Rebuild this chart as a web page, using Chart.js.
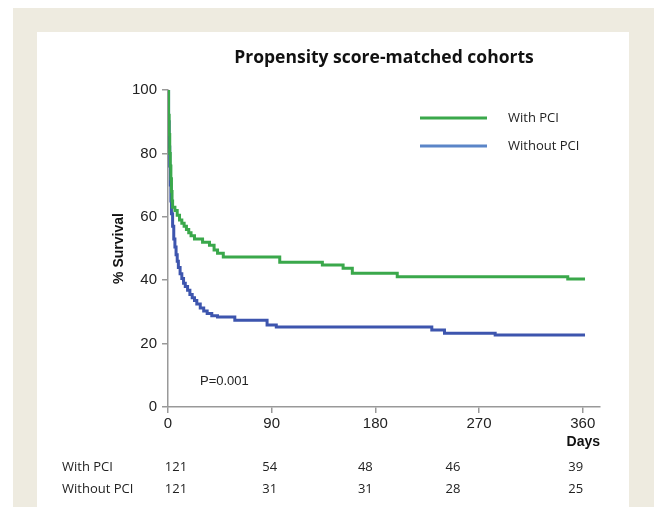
<!DOCTYPE html>
<html><head><meta charset="utf-8">
<script src="https://cdn.jsdelivr.net/npm/chart.js@4"></script>
<style>
html,body{margin:0;padding:0;background:#fff;width:654px;height:507px;overflow:hidden}
#frame{position:absolute;left:13px;top:8px;width:641px;height:499px;background:#eeebe0}
#panel{position:absolute;left:37px;top:32px;width:592px;height:475px;background:#fff}
#wrap{position:absolute;left:0;top:0;width:654px;height:507px}
</style></head><body>
<div id="frame"></div><div id="panel"></div>
<div id="wrap"><canvas id="c" width="654" height="507"></canvas></div>
<script>
// ---- data ----
const chartTitle = 'Propensity score-matched cohorts';
const seriesNames = ['With PCI', 'Without PCI'];
const withPciDays = [0, 0.5, 1, 1.5, 2, 2.5, 3, 3.5, 4, 6, 8, 10, 12, 14, 16, 18, 20, 23, 30, 36, 40, 43, 48, 97, 134, 152, 160, 199, 347, 362];
const withPciSurvival = [100, 92, 86, 80, 76, 72, 68, 65, 63, 62, 60.5, 59, 58, 57, 56, 55, 54, 53, 52, 51, 49.5, 48.5, 47.3, 45.7, 44.8, 43.8, 42.2, 41.1, 40.4, 40.4];
const withoutPciDays = [0, 0.5, 1, 1.5, 2, 2.5, 3, 4, 5, 6, 7, 8, 9, 10.5, 12, 13.5, 15, 17, 19, 21, 23, 25, 28, 31, 34, 38, 43, 58, 86, 94, 229, 240, 284, 362];
const withoutPciSurvival = [100, 90, 82, 76, 70, 65, 61, 57, 53, 50.5, 48, 46, 44, 42, 40.5, 39, 38, 36.8, 35.5, 34.5, 33.6, 32.5, 31.2, 30.3, 29.5, 28.8, 28.4, 27.4, 25.9, 25.2, 24.3, 23.3, 22.7, 22.7];
const xTicks = [0, 90, 180, 270, 360];
const yTicks = [0, 20, 40, 60, 80, 100];
const atRiskWithPci = [121, 54, 48, 46, 39];
const atRiskWithoutPci = [121, 31, 31, 28, 25];
const pValueText = 'P=0.001';
const xAxisLabel = 'Days';
const yAxisLabel = '% Survival';

// ---- styles / layout ----
const GREEN = '#3aa84b', BLUE = '#3d55ae', BLUE_LEG = '#5b85c8';
const riskColOffsets = [8, -2, -10, -26, -7];

const toPts = (xs, ys) => xs.map((d, i) => ({x: d, y: ys[i]}));

const overlay = {
  id: 'overlay',
  afterDraw(chart) {
    const ctx = chart.ctx, ca = chart.chartArea, xs = chart.scales.x;
    ctx.save();
    ctx.fillStyle = '#111';
    ctx.textBaseline = 'middle';
    // title
    ctx.font = 'bold 17.5px "Open Sans"';
    ctx.textAlign = 'center';
    ctx.fillText(chartTitle, (ca.left + ca.right) / 2, 58);
    // legend
    const legColors = [GREEN, BLUE_LEG];
    seriesNames.forEach((n, i) => {
      const y = 118 + i * 28;
      ctx.strokeStyle = legColors[i];
      ctx.lineWidth = 3;
      ctx.beginPath(); ctx.moveTo(420, y); ctx.lineTo(487, y); ctx.stroke();
      ctx.font = '13px "Open Sans"';
      ctx.textAlign = 'left';
      ctx.fillStyle = '#222';
      ctx.fillText(n, 508, y);
    });
    // p value
    ctx.font = '13px "Liberation Sans"';
    ctx.textAlign = 'left';
    ctx.fillStyle = '#222';
    ctx.fillText(pValueText, 200, 381);
    // Days
    ctx.font = 'bold 14px "Liberation Sans"';
    ctx.textAlign = 'right';
    ctx.fillStyle = '#111';
    ctx.fillText(xAxisLabel, ca.right, 442);
    // risk table
    ctx.font = '13px "Open Sans"';
    ctx.fillStyle = '#222';
    const rows = [atRiskWithPci, atRiskWithoutPci];
    rows.forEach((row, r) => {
      const y = 467 + r * 22;
      ctx.textAlign = 'left';
      ctx.fillText(seriesNames[r], 62, y);
      ctx.textAlign = 'center';
      row.forEach((v, i) => {
        ctx.fillText(String(v), xs.getPixelForValue(xTicks[i]) + riskColOffsets[i], y);
      });
    });
    ctx.restore();
  }
};

new Chart(document.getElementById('c'), {
  type: 'line',
  data: {
    datasets: [
      {label: seriesNames[0], data: toPts(withPciDays, withPciSurvival), borderColor: GREEN, borderWidth: 3, stepped: 'before', pointRadius: 0, fill: false, order: 0},
      {label: seriesNames[1], data: toPts(withoutPciDays, withoutPciSurvival), borderColor: BLUE, borderWidth: 3, stepped: 'before', pointRadius: 0, fill: false, order: 1}
    ]
  },
  options: {
    responsive: false,
    animation: false,
    layout: {padding: {left: 111, right: 54, top: 90, bottom: 0}},
    plugins: {legend: {display: false}, title: {display: false}, tooltip: {enabled: false}},
    scales: {
      x: {
        type: 'linear', min: 0, max: 375,
        afterFit: s => { s.height = 100; },
        afterBuildTicks: s => { s.ticks = xTicks.map(v => ({value: v})); },
        ticks: {font: {family: 'Liberation Sans', size: 15}, color: '#222', padding: 2, maxRotation: 0},
        grid: {display: true, drawOnChartArea: false, drawTicks: true, tickLength: 6, color: '#999', lineWidth: 1.5},
        border: {display: true, color: '#999', width: 1.5}
      },
      y: {
        min: 0, max: 100,
        afterFit: s => { s.width = 57; },
        afterBuildTicks: s => { s.ticks = yTicks.map(v => ({value: v})); },
        ticks: {font: {family: 'Liberation Sans', size: 15}, color: '#222', padding: 5},
        grid: {display: true, drawOnChartArea: false, drawTicks: true, tickLength: 6, color: '#999', lineWidth: 1.5},
        border: {display: true, color: '#999', width: 1.5},
        title: {display: true, text: yAxisLabel, font: {family: 'Liberation Sans', size: 14, weight: 'bold'}, color: '#111', padding: 0}
      }
    }
  },
  plugins: [overlay]
});
</script>
</body></html>
